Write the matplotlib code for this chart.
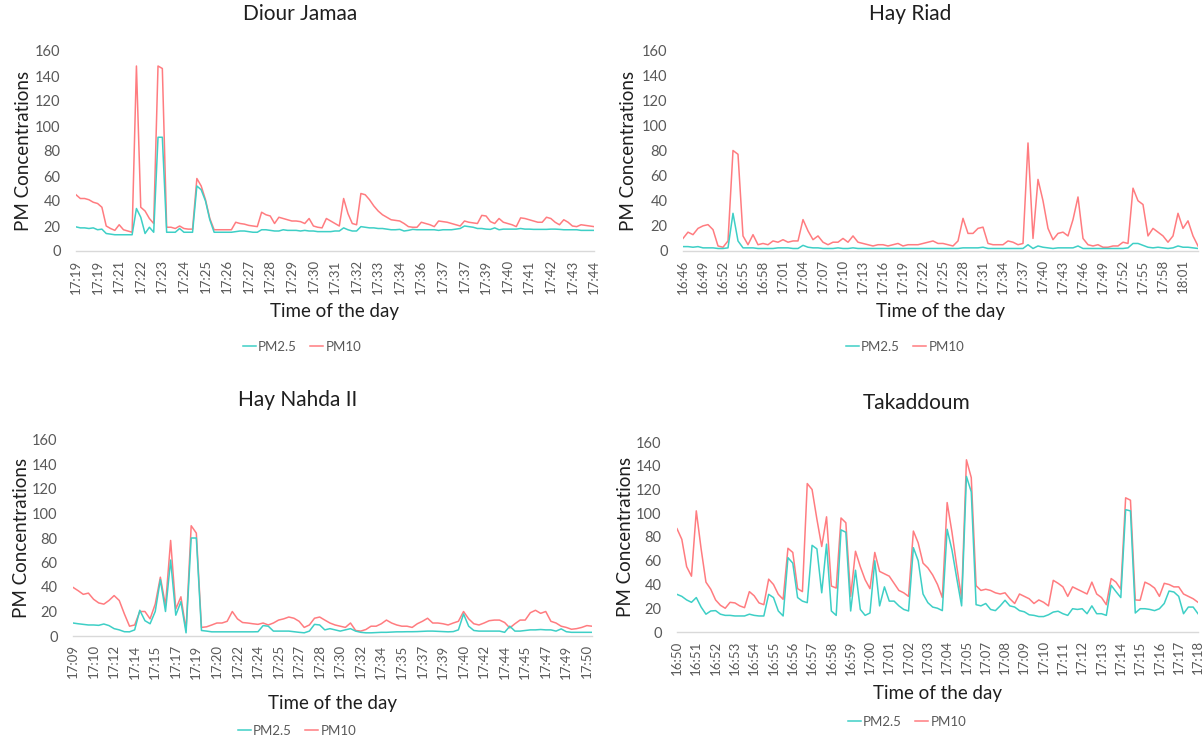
import numpy as np
import matplotlib
matplotlib.use('Agg')
import matplotlib.pyplot as plt

W, H = 1202, 737
plt.rcParams['font.family'] = ['Lato', 'DejaVu Sans']

TEAL = '#3ECFC6'
RED = '#FF7C80'

# ---------------- Diour Jamaa ----------------
dj_labels = ['17:19', '17:19', '17:21', '17:22', '17:23', '17:24', '17:25', '17:26', '17:27',
             '17:28', '17:29', '17:30', '17:31', '17:32', '17:33', '17:34', '17:36', '17:37',
             '17:37', '17:39', '17:40', '17:41', '17:42', '17:43', '17:44']
dj_pm10 = [45, 42, 42, 41, 39, 38, 35, 20, 18, 16.5,
           21, 17, 16, 15, 148, 35, 32, 26, 22, 148,
           146, 19, 19, 18, 20, 18, 17.5, 17.5, 58, 52,
           41, 26, 17, 17, 17, 17, 17, 23, 22, 21.5,
           20.5, 20, 19.5, 31, 29, 28, 22, 27, 26, 25,
           24, 24, 23.5, 22, 26, 20, 19, 18.5, 26, 24,
           22, 20, 42, 30, 22, 21, 46, 45, 41, 36,
           32, 29, 27, 25, 24.5, 24, 22, 19.5, 19, 19,
           23, 22, 21, 19.5, 24, 23.5, 23, 22, 21, 20,
           24, 23, 22.5, 22, 28.5, 28, 23.5, 22, 26, 23,
           22, 21, 19.5, 26.5, 26, 25, 24, 23, 23, 27,
           26, 23, 21, 25, 23, 20, 19.5, 21, 20.5, 20,
           19.5]
dj_pm25 = [19.3, 18.5, 18.5, 18, 18.5, 17, 17.5, 14, 13.5, 13,
           13, 13, 13, 13, 34, 27, 14, 19, 15, 91,
           91, 15, 15, 15, 18, 15, 15, 15, 52, 49,
           40, 25, 15, 15, 15, 15, 15, 15.5, 16, 16,
           15.5, 15, 15, 17, 17, 16.5, 16, 16, 17, 16.5,
           16.5, 16.5, 16, 16.5, 16, 16, 15.5, 15.5, 15.5, 15.5,
           16, 16, 18.5, 17, 16, 16, 19.5, 19, 18.5, 18.5,
           18, 18, 17.5, 17, 17, 17.3, 16, 16.5, 17.3, 17,
           17, 17, 17, 17, 16.5, 17, 17, 17, 17.5, 18,
           20, 19.5, 19, 18, 18, 17.5, 17.3, 18.5, 17, 17.5,
           17.5, 17.5, 17.5, 18, 17.5, 17.5, 17.3, 17.3, 17.3, 17.3,
           17.5, 17.5, 17.3, 17, 17, 17, 17, 16.5, 16.5, 16.5,
           16.5]

# ---------------- Hay Riad ----------------
hr_labels = ['16:46', '16:49', '16:52', '16:55', '16:58', '17:01', '17:04', '17:07', '17:10',
             '17:13', '17:16', '17:19', '17:22', '17:25', '17:28', '17:31', '17:34', '17:37',
             '17:40', '17:43', '17:46', '17:49', '17:52', '17:55', '17:58', '18:01']
hr_pm10 = [10, 15, 13, 18, 20, 21, 17, 4, 3, 8,
           80, 77, 12, 5, 13, 5, 6, 5, 8, 7,
           9, 7, 8, 8, 25, 16, 9, 12, 7, 5,
           7, 7, 10, 7, 12, 7, 6, 5, 4, 5,
           5, 4, 5, 6, 4, 5, 5, 5, 6, 7,
           8, 6, 6, 5, 4, 8, 26, 14, 14, 18,
           19, 6, 5, 5, 5, 8, 7, 5, 6, 86,
           10, 57, 40, 18, 9, 14, 15, 12, 25, 43,
           10, 5, 4, 5, 3, 3, 4, 4, 7, 6,
           50, 40, 37, 12, 18, 15, 12, 7, 12, 30,
           18, 24, 12, 4]
hr_pm25 = [3.5, 3.5, 3, 3.5, 2.5, 2.5, 2.5, 2, 2, 2.5,
           30, 8, 2.5, 2.5, 2.5, 2, 2, 2, 2, 2.5,
           2.5, 2.5, 2, 2, 4.5, 3, 2.5, 2.5, 2, 2,
           2, 2.5, 2, 2, 2.5, 2, 2, 2, 2, 2,
           2, 2, 2, 2, 2, 2, 2, 2, 2, 2,
           2, 2, 2, 2, 2, 2, 2.5, 2.5, 2.5, 2.5,
           3, 2, 2, 2, 2, 2, 2, 2, 2, 5,
           2, 4, 3, 2.5, 2, 2.5, 2.5, 2.5, 2.5, 4,
           2, 2, 2, 2, 2, 2, 2, 2, 2, 2.5,
           6, 6, 4.5, 3, 2.5, 3, 2.5, 2, 2.5, 4,
           3, 3, 2.5, 2]

# ---------------- Hay Nahda II ----------------
hn_labels = ['17:09', '17:10', '17:12', '17:14', '17:15', '17:17', '17:19', '17:20', '17:22',
             '17:24', '17:25', '17:27', '17:28', '17:30', '17:32', '17:34', '17:35', '17:37',
             '17:39', '17:40', '17:42', '17:44', '17:45', '17:47', '17:49', '17:50']
hn_pm10 = [39.7, 37, 34, 35, 30, 27, 26, 29, 33, 29,
           18, 8, 9, 20, 20, 14, 26, 48, 25, 78,
           22, 32, 5, 90, 84, 7, 7.5, 9, 10.6, 10.6,
           12, 20, 14, 11, 10.6, 10, 9.5, 10.6, 9, 10.6,
           13, 14, 15.5, 14.5, 12, 7, 9, 14.5, 15.5, 13,
           10.6, 9, 8, 7, 10.6, 4.5, 4, 5.3, 8, 8,
           10, 13, 10.6, 9, 8, 8, 7, 10, 12, 14.5,
           10.6, 10.6, 10, 9, 10.6, 12, 20, 14, 10, 9,
           10.6, 12.5, 13, 13, 11, 6.6, 10, 13, 13, 19,
           21, 18.5, 20, 12, 10.6, 8, 7, 5.5, 6, 7,
           8.5, 8]
hn_pm25 = [10.6, 10, 9.5, 9, 9, 8.7, 9.8, 8.5, 6, 5,
           3.5, 3.4, 5, 21, 12.5, 10, 20, 46, 20, 62,
           17, 28, 2.6, 80, 80, 4.5, 4, 3.4, 3.4, 3.4,
           3.4, 3.4, 3.4, 3.4, 3.4, 3.4, 3.5, 8.5, 8, 4,
           4, 4, 4, 3.5, 3, 2.6, 4, 9.5, 9, 5,
           6, 5, 4, 5, 6, 4, 3, 2.6, 2.6, 2.8,
           3, 3, 3.2, 3.4, 3.4, 3.5, 3.5, 3.6, 3.8, 4,
           4, 3.8, 3.6, 3.4, 3.6, 5, 18, 8, 4.5, 4,
           4, 4, 4, 4, 3, 8, 4, 4, 4.5, 5,
           5, 5.3, 5, 5, 4, 5.8, 3.5, 3, 3, 3,
           3, 3]

# ---------------- Takaddoum ----------------
tk_labels = ['16:50', '16:51', '16:52', '16:53', '16:54', '16:55', '16:56', '16:57', '16:58',
             '16:59', '17:00', '17:01', '17:02', '17:03', '17:04', '17:05', '17:07', '17:08',
             '17:09', '17:10', '17:11', '17:12', '17:13', '17:14', '17:15', '17:16', '17:17',
             '17:18']
tk_pm10 = [87, 78, 55, 47, 102, 70, 42, 36, 27, 22.5,
           20, 25, 24.5, 22, 20.5, 34, 30.5, 24.5, 23, 44.5,
           40, 31.7, 27.5, 70.5, 67, 36.5, 34, 125, 120, 95,
           72, 97, 38.7, 37, 96, 92, 30, 68, 55, 44,
           36.5, 67, 51, 49, 47, 41, 35, 33, 30, 85,
           75, 58, 54, 48, 40, 29, 109, 84, 55, 28,
           145, 130, 39, 35, 36, 35, 33, 32, 33, 28,
           24, 32, 30, 28, 24, 27, 25, 22, 43.5, 41,
           38, 30, 38, 36, 34, 32, 42, 32, 29, 23,
           45, 42, 36, 113, 111, 27, 26.7, 42, 40, 37,
           30, 41, 40, 38, 38, 32, 30, 28, 25]
tk_pm25 = [31.7, 30, 27, 25, 29, 21, 15, 17.7, 18, 15,
           14, 14, 13.5, 13.5, 13.5, 15, 14, 13.5, 13.5, 31.7,
           29, 17.7, 13.5, 62.6, 58, 29, 26, 24.7, 73, 70,
           33, 74, 17.7, 14, 86, 84, 17.7, 52, 19, 14,
           16, 60, 22, 38, 26, 26, 22, 19, 17.7, 71,
           60, 32, 24.7, 21, 20, 18, 86.5, 69, 45, 22,
           131, 118, 23, 22, 24, 19, 18, 22, 26.7, 22,
           21, 18, 17, 14.5, 14, 13, 13, 14.5, 16.8, 17.5,
           15.4, 14, 19.6, 19, 19.6, 15.4, 22, 15.4, 15.4, 14,
           39.3, 34, 29, 103, 102, 16, 19.6, 19.6, 19, 18,
           19.6, 24, 34.5, 33.7, 30, 15.4, 21, 21, 15.4]

fig = plt.figure(figsize=(W / 100, H / 100), dpi=100)

panels = [
    dict(title='Diour Jamaa', pm25=dj_pm25, pm10=dj_pm10, labels=dj_labels, step=5,
         box=(76, 51, 594, 251), title_xy=(300, 22), ylab_x=24, xlab_y=312, leg_xy=(302, 347)),
    dict(title='Hay Riad', pm25=hr_pm25, pm10=hr_pm10, labels=hr_labels, step=4,
         box=(683, 50, 1198, 251), title_xy=(910, 22), ylab_x=628, xlab_y=312, leg_xy=(905, 347)),
    dict(title='Hay Nahda II', pm25=hn_pm25, pm10=hn_pm10, labels=hn_labels, step=4,
         box=(73, 440, 592, 636), title_xy=(298, 408), ylab_x=22, xlab_y=703, leg_xy=(297, 731)),
    dict(title='Takaddoum', pm25=tk_pm25, pm10=tk_pm10, labels=tk_labels, step=4,
         box=(677, 442, 1198, 632), title_xy=(917, 411), ylab_x=625, xlab_y=693, leg_xy=(907, 722)),
]

TXT = '#1f1f1f'
TICK = '#595959'

for p in panels:
    l, t, r, b = p['box']
    ax = fig.add_axes([l / W, 1 - b / H, (r - l) / W, (b - t) / H])
    n = len(p['pm10'])
    x = np.arange(n)
    ax.plot(x, p['pm25'], color=TEAL, lw=1.1, label='PM2.5', zorder=3)
    ax.plot(x, p['pm10'], color=RED, lw=1.1, label='PM10', zorder=2)
    ax.set_xlim(0, n - 1)
    ax.set_ylim(0, 160)
    ax.set_yticks(np.arange(0, 161, 20))
    ticks = np.arange(len(p['labels'])) * p['step']
    ax.set_xticks(ticks)
    ax.set_xticklabels(p['labels'], rotation=90, fontsize=9.5, color=TICK)
    ax.tick_params(axis='y', labelsize=10.5, labelcolor=TICK, length=0, pad=11)
    ax.tick_params(axis='x', length=0, pad=6)
    for s in ['top', 'right', 'left']:
        ax.spines[s].set_visible(False)
    ax.spines['bottom'].set_color('#D9D9D9')
    ax.spines['bottom'].set_linewidth(1.0)

    wpx, hpx = r - l, b - t
    tx, ty = p['title_xy']
    ax.set_title(p['title'], x=(tx - l) / wpx, y=(b - ty) / hpx, va='center',
                 fontsize=15, color=TXT)
    ax.set_ylabel('PM Concentrations', fontsize=13.5, color=TXT)
    ax.yaxis.set_label_coords((p['ylab_x'] - l) / wpx, 0.5)
    ax.yaxis.label.set_verticalalignment('center')
    ax.set_xlabel('Time of the day', fontsize=13.5, color=TXT)
    ax.xaxis.set_label_coords(0.5, (b - p['xlab_y']) / hpx)
    ax.xaxis.label.set_verticalalignment('center')
    lx, ly = p['leg_xy']
    ax.legend(loc='center', bbox_to_anchor=((lx - l) / wpx, (b - ly) / hpx), ncol=2,
              frameon=False, fontsize=9.5, handlelength=1.0, handletextpad=0.15,
              columnspacing=1.0, labelcolor=TICK)

fig.savefig('out.png', dpi=100)
